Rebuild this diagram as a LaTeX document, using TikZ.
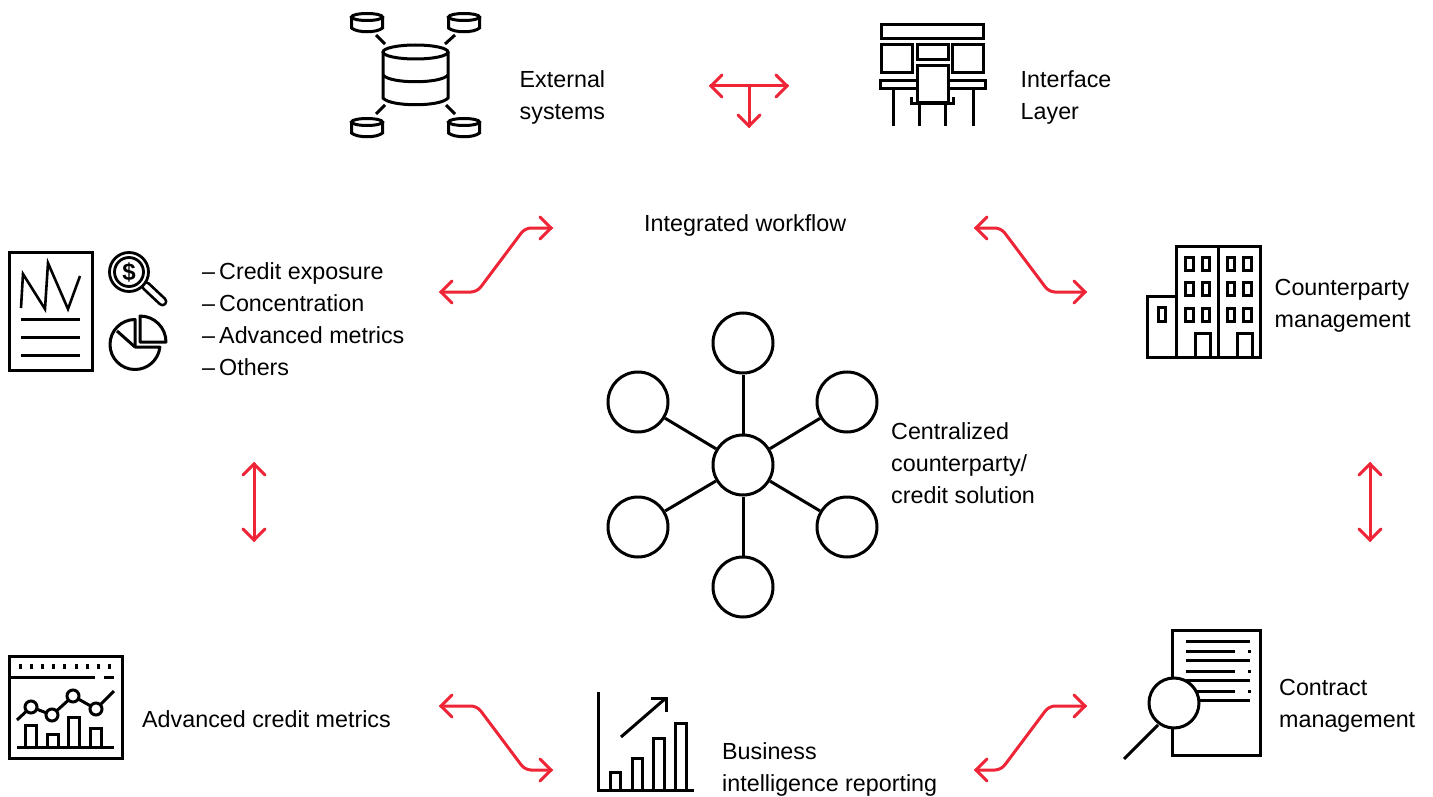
\documentclass[tikz,border=0pt]{standalone}
\usepackage{fontspec}
\setmainfont{Liberation Sans}
\usetikzlibrary{arrows.meta}
\definecolor{arrowred}{HTML}{EE2536}
\newcommand{\ls}{\strut}
\newcommand{\dashitem}{–\kern-2.4pt\ }
\pgfdeclarearrow{
  name = VHead,
  setup code = {
    \pgfarrowssettipend{0pt}
    \pgfarrowssetlineend{-1.5pt}
    \pgfarrowssetvisualbackend{-12pt}
    \pgfarrowssetbackend{-12pt}
  },
  drawing code = {
    \pgfsetdash{}{+0pt}
    \pgfsetroundcap
    \pgfsetmiterjoin
    \pgfpathmoveto{\pgfqpoint{-13pt}{11pt}}
    \pgfpathlineto{\pgfqpoint{-2pt}{0pt}}
    \pgfpathlineto{\pgfqpoint{-13pt}{-11pt}}
    \pgfusepathqstroke
  },
  defaults = {}
}
\tikzset{
  ink/.style={draw=black,line width=3pt,line cap=butt,line join=miter},
  label text/.style={anchor=west,align=left,inner sep=0pt,text=black,font=\fontsize{23.3}{32}\selectfont},
  hubnode/.style={circle,draw=black,line width=3pt,fill=white,minimum size=60pt,inner sep=0pt},
  link/.style={draw=arrowred,line width=3pt,rounded corners=6pt,line cap=round,line join=round,VHead-VHead},
  linkone/.style={draw=arrowred,line width=3pt,line cap=round,-VHead},
}
\begin{document}
\begin{tikzpicture}[x=1pt,y=-1pt]
\useasboundingbox (0,0) rectangle (1433,797);

% ---- labels
\node[label text] (external) at (519.5,97.2) {\ls External\\\ls systems};
\node[label text] (interface) at (1020.5,97.2) {\ls Interface\\\ls Layer};
\node[label text] (workflow) at (644,224.8) {\ls Integrated workflow};
\node[label text] (list) at (202,320.8) {\ls \dashitem Credit exposure\\\ls \dashitem Concentration\\\ls \dashitem Advanced metrics\\\ls \dashitem Others};
\node[label text] (cpty) at (1274.5,305.2) {\ls Counterparty\\\ls management};
\node[label text] (central) at (891,464.8) {\ls Centralized\\\ls counterparty/\\\ls credit solution};
\node[label text] (metrics) at (142,720.8) {\ls Advanced credit metrics};
\node[label text] (bi) at (722,768.8) {\ls Business\\\ls intelligence reporting};
\node[label text] (contract) at (1279,704.8) {\ls Contract\\\ls management};

% ---- hub
\node[hubnode] (hc) at (743,465) {};
\node[hubnode] (h1) at (743,343) {};
\node[hubnode] (h2) at (847,402) {};
\node[hubnode] (h3) at (847,527) {};
\node[hubnode] (h4) at (743,587) {};
\node[hubnode] (h5) at (638,527) {};
\node[hubnode] (h6) at (638,402) {};
\foreach \n in {h1,h2,h3,h4,h5,h6} \draw[ink] (hc) -- (\n);

% ---- red connectors
\coordinate (a1) at (439,292); \coordinate (a2) at (477,292); \coordinate (a3) at (525,228); \coordinate (a4) at (553,228);
\draw[link] (a1) -- (a2) -- (a3) -- (a4);
\coordinate (b1) at (1087,292); \coordinate (b2) at (1049,292); \coordinate (b3) at (1001,228); \coordinate (b4) at (974,228);
\draw[link] (b1) -- (b2) -- (b3) -- (b4);
\coordinate (c1) at (439,706); \coordinate (c2) at (477,706); \coordinate (c3) at (525,770); \coordinate (c4) at (553,770);
\draw[link] (c1) -- (c2) -- (c3) -- (c4);
\coordinate (d1) at (1087,706); \coordinate (d2) at (1049,706); \coordinate (d3) at (1001,770); \coordinate (d4) at (974,770);
\draw[link] (d1) -- (d2) -- (d3) -- (d4);
\coordinate (e1) at (254,462); \coordinate (e2) at (254,542);
\draw[link] (e1) -- (e2);
\coordinate (f1) at (1370,462); \coordinate (f2) at (1370,542);
\draw[link] (f1) -- (f2);
\coordinate (t1) at (709,86); \coordinate (t2) at (789,86); \coordinate (t3) at (749,86); \coordinate (t4) at (749,128);
\draw[link] (t1) -- (t2);
\draw[linkone] (t3) -- (t4);

% ---- database icon
\draw[ink] (415.5,52) ellipse [x radius=32.5,y radius=7];
\draw[ink] (383,52) -- (383,98) .. controls (390,107) and (441,107) .. (448,98) -- (448,52);
\draw[ink] (383,75) .. controls (390,84) and (441,84) .. (448,75);
\foreach \cx/\cy in {367/17,464/17,367/122,464/122}{
  \draw[ink] (\cx,\cy) ellipse [x radius=15.5,y radius=3.5];
  \draw[ink] (\cx-15.5,\cy) -- (\cx-15.5,\cy+11) .. controls (\cx-10,\cy+16) and (\cx+10,\cy+16) .. (\cx+15.5,\cy+11) -- (\cx+15.5,\cy);
}
\draw[ink] (376,35) -- (385,44);
\draw[ink] (445,44) -- (455,35);
\draw[ink] (385,105) -- (376,114);
\draw[ink] (446,105) -- (455,114);

% ---- interface icon
\draw[ink] (881,24.5) rectangle (983.5,39);
\draw[ink] (881,45) rectangle (912,73);
\draw[ink] (917,45) rectangle (948,60);
\draw[ink] (952,45) rectangle (983.5,73);
\draw[ink] (917,66) rectangle (948,103);
\draw[ink] (917,80.5) -- (880.5,80.5) -- (880.5,89) -- (917,89);
\draw[ink] (948,80.5) -- (985,80.5) -- (985,89) -- (948,89);
\draw[ink] (911,97) -- (911,104) -- (953,104) -- (953,97);
\draw[ink] (893,89) -- (893,126);
\draw[ink] (919,104) -- (919,126);
\draw[ink] (945,104) -- (945,126);
\draw[ink] (973,89) -- (973,126);

% ---- report icon
\draw[ink] (9.5,252.5) rectangle (92,370);
\draw[ink,line width=2.6pt] (21,308) -- (23,274) -- (45,309) -- (48,263) -- (68,309) -- (80,276);
\draw[ink] (21,319) -- (80,319);
\draw[ink] (21,337) -- (80,337);
\draw[ink] (21,355) -- (80,355);
\draw[draw=black,line width=10pt,line cap=round] (146,286) -- (162.5,301.5);
\draw[draw=white,line width=4.5pt,line cap=round] (146,286) -- (162.5,301.5);
\draw[ink,fill=white,line width=2.8pt] (129,272) circle [radius=19.5pt];
\draw[ink,line width=2.8pt] (129,272) circle [radius=14.5pt];
\node[inner sep=0pt,font=\bfseries\fontsize{24}{24}\selectfont] (dollar) at (129,272) {\$};
\draw[ink,line join=round] (135,319.5) arc [start angle=90,end angle=354,radius=25pt] -- (135,347) -- cycle;
\draw[ink] (135,347) -- (117,331);
\draw[ink,line join=round] (140,316) arc [start angle=90,end angle=0,radius=26pt] -- (140,342) -- cycle;

% ---- building icon
\draw[ink] (1176,246) rectangle (1260,357);
\draw[ink] (1218,245) -- (1218,357);
\draw[ink] (1147.5,296.5) rectangle (1176,357);
\draw[ink] (1158,307.5) rectangle (1165,321);
\foreach \wx in {1185.5,1202,1227,1243.5}{
  \foreach \wy in {257.5,282.5,308}{
    \draw[ink] (\wx,\wy) rectangle (\wx+7.5,\wy+13);
  }
}
\draw[ink] (1195,333.5) rectangle (1210,357);
\draw[ink] (1237,333.5) rectangle (1252,357);

% ---- metrics icon
\draw[ink] (9.5,656.5) rectangle (122,758);
\foreach \tx in {20,31,42,53,64,76,87,98,109} \draw[ink] (\tx,664) -- (\tx,669);
\draw[ink] (9,677) -- (95,677);
\draw[ink] (104,677) -- (114,677);
\draw[ink] (17,720) -- (31,707) -- (52,715) -- (73,696) -- (96,709) -- (114,691);
\foreach \px/\py in {31/707,52/715,73/696,96/709} \draw[ink,fill=white] (\px,\py) circle [radius=6pt];
\draw[ink] (17,747) -- (114,747);
\draw[ink] (25.5,747) -- (25.5,725.5) -- (36.5,725.5) -- (36.5,747);
\draw[ink] (47.5,747) -- (47.5,734) -- (58,734) -- (58,747);
\draw[ink] (68.5,747) -- (68.5,717.5) -- (79.5,717.5) -- (79.5,747);
\draw[ink] (90,747) -- (90,728.5) -- (101,728.5) -- (101,747);

% ---- BI icon
\draw[ink] (598,692) -- (598,790) -- (694,790);
\draw[ink] (610.5,790) -- (610.5,772.5) -- (620,772.5) -- (620,790);
\draw[ink] (632,790) -- (632,758.5) -- (642,758.5) -- (642,790);
\draw[ink] (653.5,790) -- (653.5,738.5) -- (664,738.5) -- (664,790);
\draw[ink] (675.5,790) -- (675.5,723.5) -- (686,723.5) -- (686,790);
\draw[ink] (621,737) -- (666,698);
\draw[ink] (651,698) -- (666,698) -- (666,712);

% ---- contract icon
\draw[ink] (1172.5,630.5) rectangle (1260,755);
\draw[ink] (1186,641) -- (1250,641);
\draw[ink] (1186,651) -- (1235,651);
\draw[ink] (1186,660) -- (1250,660);
\draw[ink] (1186,671) -- (1235,671);
\draw[ink] (1186,680) -- (1250,680);
\draw[ink] (1186,691) -- (1235,691);
\draw[ink] (1186,700) -- (1250,700);
\foreach \dy in {651,671,691} \draw[ink] (1247.5,\dy) -- (1250.5,\dy);
\draw[ink,fill=white] (1174,703) circle [radius=25pt];
\draw[ink] (1158,725) -- (1124,759);
\end{tikzpicture}
\end{document}
